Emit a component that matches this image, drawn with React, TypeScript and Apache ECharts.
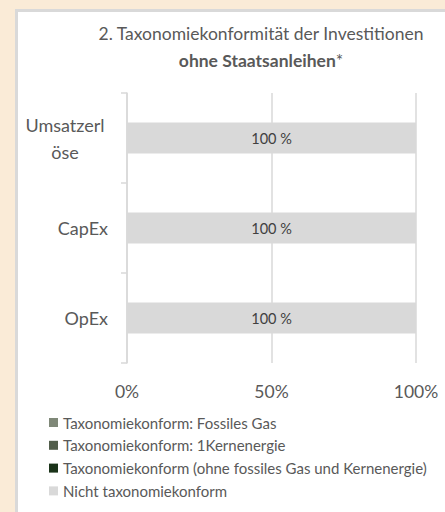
import React, { useEffect, useRef } from "react";
import * as echarts from "echarts";

const categories = ["Umsatzerlöse", "CapEx", "OpEx"];
const seriesNames = [
  "Taxonomiekonform: Fossiles Gas",
  "Taxonomiekonform: 1Kernenergie",
  "Taxonomiekonform (ohne fossiles Gas und Kernenergie)",
  "Nicht taxonomiekonform",
];
const fossilesGas = [0, 0, 0];
const kernenergie = [0, 0, 0];
const taxonomiekonform = [0, 0, 0];
const nichtTaxonomiekonform = [100, 100, 100];
const seriesColors = ["#7f8878", "#525e4b", "#1a3319", "#d9d9d9"];
const xTicks = [0, 50, 100];

const FONT = "Lato, 'Open Sans', sans-serif";

export default function App() {
  const ref = useRef<HTMLDivElement>(null);
  useEffect(() => {
    if (!ref.current) return;
    const chart = echarts.init(ref.current, undefined, { renderer: "svg" });
    const values = [fossilesGas, kernenergie, taxonomiekonform, nichtTaxonomiekonform];
    chart.setOption({
      animation: false,
      backgroundColor: "#faebd7",
      textStyle: { fontFamily: FONT },
      graphic: [
        {
          type: "rect",
          z: -10,
          shape: { x: 16.5, y: 10.5, width: 460, height: 520 },
          style: { fill: "#ffffff", stroke: "#d9d9d9", lineWidth: 3 },
          silent: true,
        },
      ],
      title: {
        left: 256,
        top: 14.5,
        textAlign: "center",
        text: "{a|2. Taxonomiekonformität der Investitionen}\n{b|ohne Staatsanleihen}{a|*}",
        textStyle: {
          fontWeight: "normal",
          rich: {
            a: { fontFamily: FONT, fontSize: 17.5, color: "#595959", fontWeight: "normal", lineHeight: 27 },
            b: { fontFamily: FONT, fontSize: 17.5, color: "#595959", fontWeight: "bold", lineHeight: 27 },
          },
        },
      },
      legend: {
        orient: "vertical",
        left: 49,
        top: 415,
        padding: 0,
        itemWidth: 9,
        itemHeight: 9,
        itemGap: 7.8,
        icon: "rect",
        data: seriesNames,
        textStyle: { fontFamily: FONT, fontSize: 15, color: "#595959", lineHeight: 15 },
      },
      grid: { left: 127, right: 29, top: 93, bottom: 149, containLabel: false },
      xAxis: {
        type: "value",
        min: 0,
        max: 100,
        interval: 50,
        axisLine: { show: false },
        axisTick: { show: false },
        splitLine: { show: true, lineStyle: { color: "#d9d9d9", width: 1.5 } },
        axisLabel: {
          fontFamily: FONT,
          fontSize: 17.5,
          color: "#595959",
          margin: 19,
          formatter: (v: number) => (xTicks.includes(v) ? `${v}%` : ""),
        },
      },
      yAxis: {
        type: "category",
        inverse: true,
        data: categories,
        axisLine: { show: true, lineStyle: { color: "#d9d9d9", width: 1.5 } },
        axisTick: { show: true, length: 6, lineStyle: { color: "#d9d9d9", width: 1.5 } },
        axisLabel: {
          fontFamily: FONT,
          fontSize: 18,
          color: "#595959",
          margin: 19,
          formatter: (v: string) =>
            v === "Umsatzerlöse" ? "{w|Umsatzerl}\n{w|öse}" : v,
          rich: {
            w: { fontFamily: FONT, fontSize: 18, color: "#595959", width: 86, align: "center", lineHeight: 27 },
          },
        },
      },
      series: seriesNames.map((name, i) => ({
        name,
        type: "bar",
        stack: "total",
        barWidth: 31,
        data: values[i],
        itemStyle: { color: seriesColors[i] },
        label:
          i === 3
            ? {
                show: true,
                position: "inside",
                formatter: "{c} %",
                fontFamily: FONT,
                fontSize: 14.5,
                color: "#404040",
              }
            : { show: false },
      })),
    });
    return () => chart.dispose();
  }, []);
  return (
    <div
      ref={ref}
      style={{ position: "fixed", left: 0, top: 0, width: 445, height: 512 }}
    />
  );
}
